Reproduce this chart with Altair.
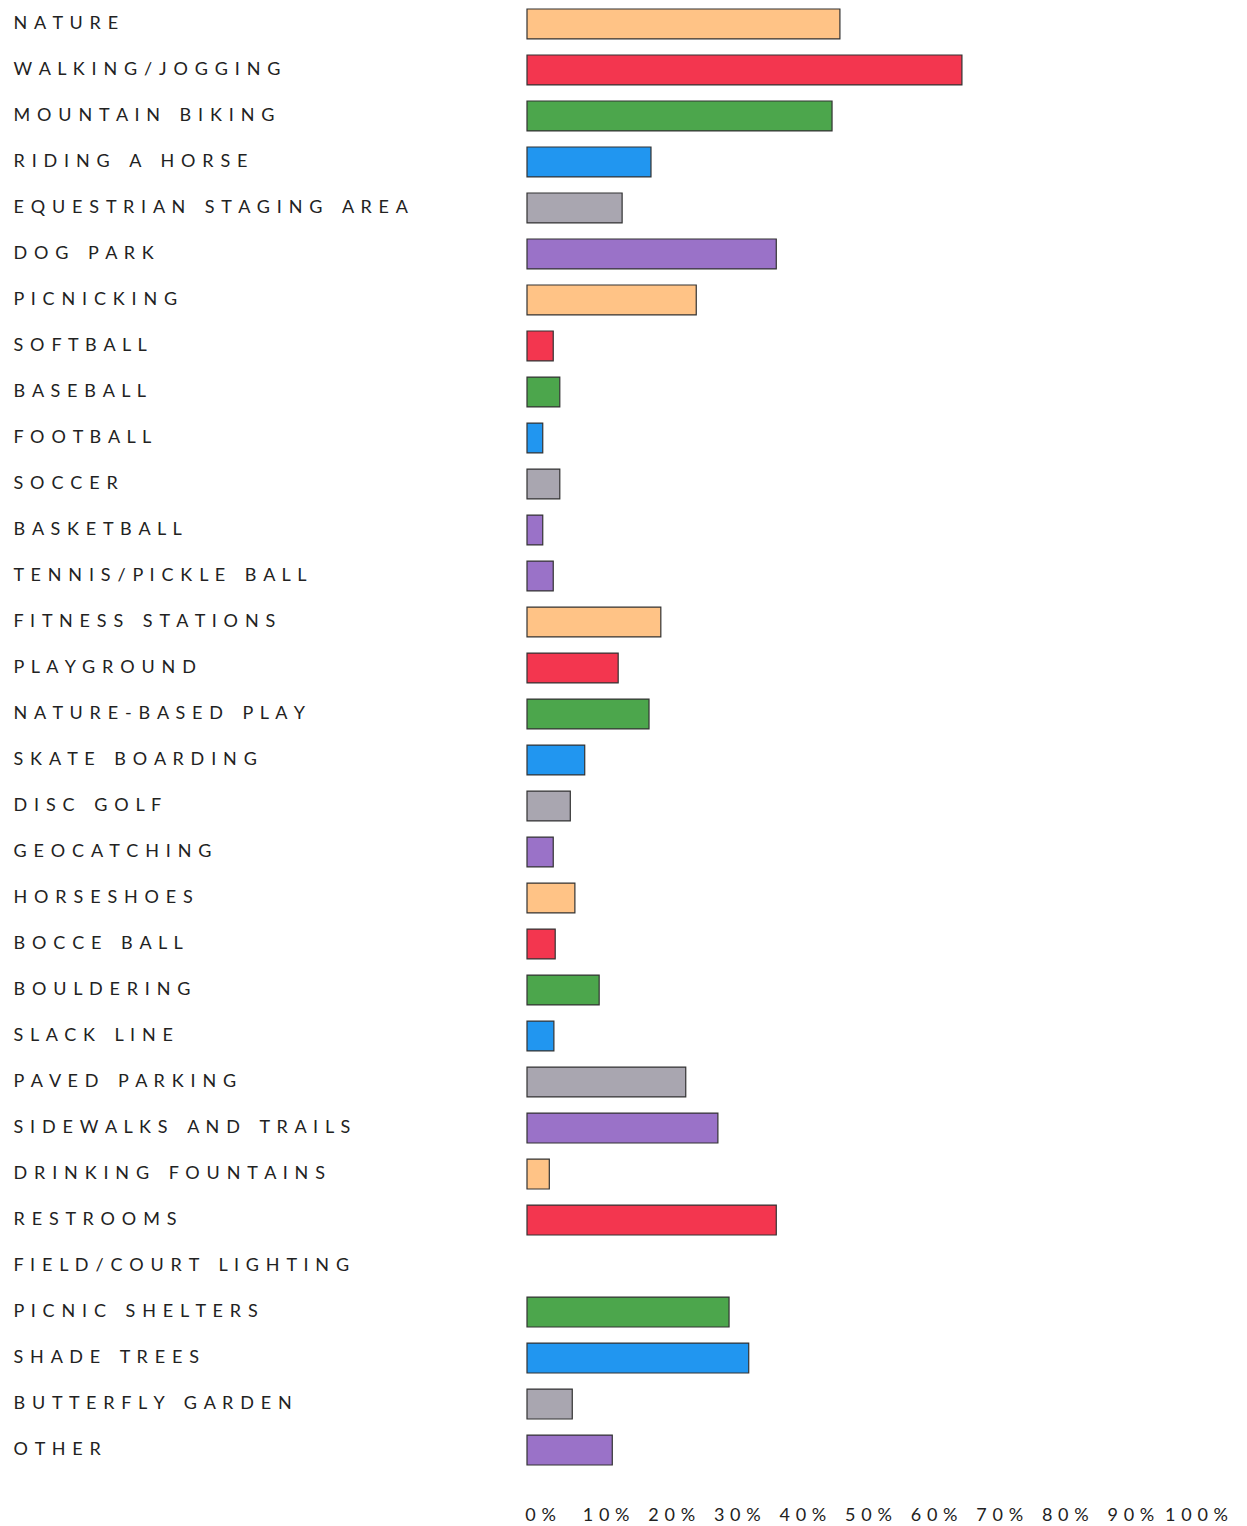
import altair as alt
import pandas as pd

categories = [
    "NATURE", "WALKING/JOGGING", "MOUNTAIN BIKING", "RIDING A HORSE",
    "EQUESTRIAN STAGING AREA", "DOG PARK", "PICNICKING", "SOFTBALL",
    "BASEBALL", "FOOTBALL", "SOCCER", "BASKETBALL", "TENNIS/PICKLE BALL",
    "FITNESS STATIONS", "PLAYGROUND", "NATURE-BASED PLAY", "SKATE BOARDING",
    "DISC GOLF", "GEOCATCHING", "HORSESHOES", "BOCCE BALL", "BOULDERING",
    "SLACK LINE", "PAVED PARKING", "SIDEWALKS AND TRAILS",
    "DRINKING FOUNTAINS", "RESTROOMS", "FIELD/COURT LIGHTING",
    "PICNIC SHELTERS", "SHADE TREES", "BUTTERFLY GARDEN", "OTHER",
]
values = [
    47.7, 66.3, 46.5, 18.9, 14.5, 38.0, 25.8, 4.0,
    5.0, 2.4, 5.0, 2.4, 4.0,
    20.4, 13.9, 18.6, 8.8,
    6.6, 4.0, 7.3, 4.3, 11.0,
    4.1, 24.2, 29.1,
    3.4, 38.0, 0.0,
    30.8, 33.8, 6.9, 13.0,
]
color_groups = [
    "orange", "red", "green", "blue", "gray", "purple", "orange", "red",
    "green", "blue", "gray", "purple", "purple",
    "orange", "red", "green", "blue", "gray", "purple", "orange", "red",
    "green", "blue", "gray", "purple", "orange", "red", "green",
    "green", "blue", "gray", "purple",
]
palette_names = ["orange", "red", "green", "blue", "gray", "purple"]
palette_colors = ["#FFC386", "#F3364F", "#4CA64C", "#2196F0", "#A9A6B0", "#9A72C8"]

NB = "\u00a0"
HAIR = "\u200a"


def spaced(s):
    letter_sep = NB + HAIR + HAIR
    word_sep = NB * 4 + HAIR
    return word_sep.join(letter_sep.join(list(w)) for w in s.split(" "))


df = pd.DataFrame({
    "cat": [spaced(c) for c in categories],
    "value": values,
    "grp": color_groups,
})

chart = alt.Chart(df).mark_bar(
    stroke="#333333", strokeWidth=1.2
).encode(
    y=alt.Y(
        "cat:N", sort=None, title=None,
        scale=alt.Scale(paddingInner=0.35, paddingOuter=0),
        axis=alt.Axis(
            domain=False, ticks=False, tickSize=0, labelAlign="left",
            labelPadding=514, labelFont="Lato", labelFontSize=18,
            labelColor="#222222", labelLimit=600, labelBaseline="middle",
        ),
    ),
    x=alt.X(
        "value:Q", title=None,
        scale=alt.Scale(domain=[0, 100], nice=False),
        axis=alt.Axis(
            values=[0, 10, 20, 30, 40, 50, 60, 70, 80, 90, 100],
            labelExpr="join(split(datum.value + '%', ''), '\u00a0\u200a')",
            domain=False, ticks=False, tickSize=0, grid=False,
            labelPadding=41, labelOffset=13, labelFont="Lato",
            labelFontSize=18, labelColor="#222222", labelFlush=False,
        ),
    ),
    color=alt.Color(
        "grp:N", legend=None,
        scale=alt.Scale(domain=palette_names, range=palette_colors),
    ),
    strokeOpacity=alt.condition("datum.value > 0", alt.value(1), alt.value(0)),
).properties(
    width=656, height=1456,
    padding={"left": 5, "top": 0, "right": 5, "bottom": 5},
).configure_view(stroke=None)

chart.save("out.html", embed_options={"renderer": "svg", "actions": False})
